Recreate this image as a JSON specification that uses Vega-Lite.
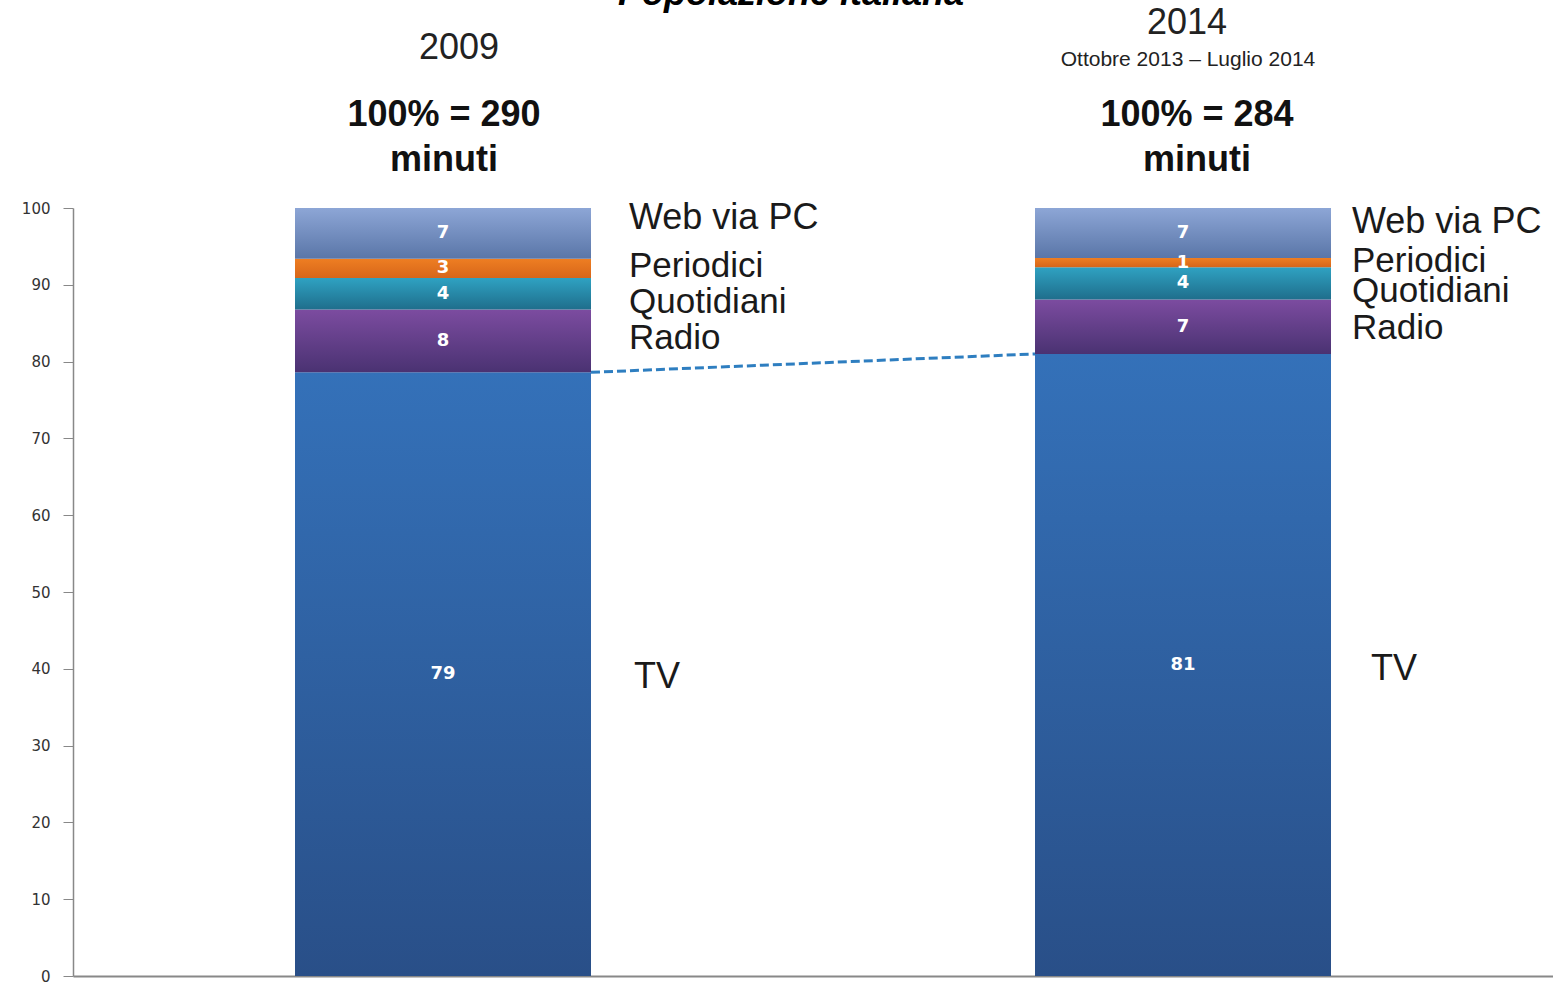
{
  "$schema": "https://vega.github.io/schema/vega-lite/v6.json",
  "width": 1480,
  "height": 768,
  "autosize": {"type": "none"},
  "padding": {"left": 73, "top": 208, "right": 0, "bottom": 6},
  "background": "white",
  "config": {
    "view": {"stroke": null},
    "font": "Liberation Sans",
    "axisY": {"domainColor": "#888888", "domainWidth": 1.5, "tickColor": "#888888", "tickSize": 10, "labelFont": "DejaVu Sans", "labelFontSize": 15, "labelColor": "#333333", "labelPadding": 13, "grid": false, "title": null},
    "axisX": {"labels": false, "ticks": false, "domainColor": "#888888", "domainWidth": 2, "title": null, "grid": false}
  },
  "datasets": {
    "media": [
      {"year": "2009", "cat": "TV", "ord": 1, "value": 78.6},
      {"year": "2009", "cat": "Radio", "ord": 2, "value": 8.2},
      {"year": "2009", "cat": "Quotidiani", "ord": 3, "value": 4.1},
      {"year": "2009", "cat": "Periodici", "ord": 4, "value": 2.5},
      {"year": "2009", "cat": "Web via PC", "ord": 5, "value": 6.6},
      {"year": "2014", "cat": "TV", "ord": 1, "value": 81.0},
      {"year": "2014", "cat": "Radio", "ord": 2, "value": 7.1},
      {"year": "2014", "cat": "Quotidiani", "ord": 3, "value": 4.2},
      {"year": "2014", "cat": "Periodici", "ord": 4, "value": 1.2},
      {"year": "2014", "cat": "Web via PC", "ord": 5, "value": 6.5}
    ],
    "hdr": [
      {"year": "2009", "kind": "title", "text": "Popolazione italiana"},
      {"year": "2009", "kind": "year", "text": "2009"},
      {"year": "2014", "kind": "year", "text": "2014"},
      {"year": "2014", "kind": "period", "text": "Ottobre 2013 – Luglio 2014"},
      {"year": "2009", "kind": "total", "text": "100% = 290"},
      {"year": "2014", "kind": "total", "text": "100% = 284"},
      {"year": "2009", "kind": "unit", "text": "minuti"},
      {"year": "2014", "kind": "unit", "text": "minuti"}
    ]
  },
  "layer": [
    {
      "data": {"name": "media"},
      "transform": [
        {"filter": "datum.cat == 'TV'"},
        {"pivot": "year", "value": "value", "groupby": ["cat"]}
      ],
      "mark": {"type": "rule", "stroke": "#2E7EC0", "strokeWidth": 3, "strokeDash": [9, 4]},
      "encoding": {
        "x": {"datum": "2009", "type": "nominal", "bandPosition": 1, "scale": {"domain": ["2009", "2014"], "paddingInner": 0.6, "paddingOuter": 0.3}},
        "x2": {"datum": "2014", "bandPosition": 0},
        "y": {"field": "2009", "type": "quantitative", "scale": {"domain": [0, 100], "nice": false}, "title": null, "axis": {"values": [0, 10, 20, 30, 40, 50, 60, 70, 80, 90, 100]}},
        "y2": {"field": "2014"}
      }
    },
    {
      "data": {"name": "media"},
      "transform": [
        {"stack": "value", "groupby": ["year"], "sort": [{"field": "ord", "order": "ascending"}], "as": ["y0", "y1"]},
        {"calculate": "(datum.y0 + datum.y1) / 2", "as": "mid"}
      ],
      "encoding": {
        "x": {"field": "year", "type": "nominal", "scale": {"domain": ["2009", "2014"], "paddingInner": 0.6, "paddingOuter": 0.3}}
      },
      "layer": [
        {
          "transform": [{"filter": "datum.cat == 'TV'"}],
          "mark": {"type": "bar", "stroke": null, "fill": {"gradient": "linear", "x1": 0, "y1": 0, "x2": 0, "y2": 1, "stops": [{"offset": 0, "color": "#3471B9"}, {"offset": 1, "color": "#294F88"}]}},
          "encoding": {"y": {"field": "y1", "type": "quantitative", "scale": {"domain": [0, 100], "nice": false}, "title": null, "axis": {"values": [0, 10, 20, 30, 40, 50, 60, 70, 80, 90, 100]}}, "y2": {"field": "y0"}}
        },
        {
          "transform": [{"filter": "datum.cat == 'Radio'"}],
          "mark": {"type": "bar", "stroke": null, "fill": {"gradient": "linear", "x1": 0, "y1": 0, "x2": 0, "y2": 1, "stops": [{"offset": 0, "color": "#7C4CA0"}, {"offset": 1, "color": "#4A3272"}]}},
          "encoding": {"y": {"field": "y1", "type": "quantitative", "title": null}, "y2": {"field": "y0"}}
        },
        {
          "transform": [{"filter": "datum.cat == 'Quotidiani'"}],
          "mark": {"type": "bar", "stroke": null, "fill": {"gradient": "linear", "x1": 0, "y1": 0, "x2": 0, "y2": 1, "stops": [{"offset": 0, "color": "#2FA2C2"}, {"offset": 1, "color": "#1F6E8C"}]}},
          "encoding": {"y": {"field": "y1", "type": "quantitative", "title": null}, "y2": {"field": "y0"}}
        },
        {
          "transform": [{"filter": "datum.cat == 'Periodici'"}],
          "mark": {"type": "bar", "stroke": null, "fill": {"gradient": "linear", "x1": 0, "y1": 0, "x2": 0, "y2": 1, "stops": [{"offset": 0, "color": "#EE7E22"}, {"offset": 1, "color": "#D7661A"}]}},
          "encoding": {"y": {"field": "y1", "type": "quantitative", "title": null}, "y2": {"field": "y0"}}
        },
        {
          "transform": [{"filter": "datum.cat == 'Web via PC'"}],
          "mark": {"type": "bar", "stroke": null, "fill": {"gradient": "linear", "x1": 0, "y1": 0, "x2": 0, "y2": 1, "stops": [{"offset": 0, "color": "#8DA6D6"}, {"offset": 1, "color": "#5A76A8"}]}},
          "encoding": {"y": {"field": "y1", "type": "quantitative", "title": null}, "y2": {"field": "y0"}}
        },
        {
          "mark": {"type": "text", "color": "white", "fontWeight": "bold", "fontSize": 18, "font": "DejaVu Sans", "baseline": "middle", "align": "center"},
          "encoding": {"y": {"field": "mid", "type": "quantitative", "title": null}, "text": {"field": "value", "type": "quantitative", "format": ".0f"}}
        },
        {
          "encoding": {"x": {"field": "year", "type": "nominal", "bandPosition": 1}, "y": {"field": "mid", "type": "quantitative", "title": null}, "text": {"field": "cat"}},
          "layer": [
            {"transform": [{"filter": "datum.year == '2009' && datum.cat == 'TV'"}], "mark": {"type": "text", "color": "#1a1a1a", "fontSize": 36, "align": "left", "baseline": "middle", "dx": 43, "dy": 3}},
            {"transform": [{"filter": "datum.year == '2014' && datum.cat == 'TV'"}], "mark": {"type": "text", "color": "#1a1a1a", "fontSize": 36, "align": "left", "baseline": "middle", "dx": 40, "dy": 4}},
            {"transform": [{"filter": "datum.year == '2009' && datum.cat == 'Radio'"}], "mark": {"type": "text", "color": "#1a1a1a", "fontSize": 35, "align": "left", "baseline": "middle", "dx": 38, "dy": -3}},
            {"transform": [{"filter": "datum.year == '2014' && datum.cat == 'Radio'"}], "mark": {"type": "text", "color": "#1a1a1a", "fontSize": 35, "align": "left", "baseline": "middle", "dx": 21, "dy": 1}},
            {"transform": [{"filter": "datum.year == '2009' && datum.cat == 'Quotidiani'"}], "mark": {"type": "text", "color": "#1a1a1a", "fontSize": 35, "align": "left", "baseline": "middle", "dx": 38, "dy": 8}},
            {"transform": [{"filter": "datum.year == '2014' && datum.cat == 'Quotidiani'"}], "mark": {"type": "text", "color": "#1a1a1a", "fontSize": 35, "align": "left", "baseline": "middle", "dx": 21, "dy": 8}},
            {"transform": [{"filter": "datum.year == '2009' && datum.cat == 'Periodici'"}], "mark": {"type": "text", "color": "#1a1a1a", "fontSize": 35, "align": "left", "baseline": "middle", "dx": 38, "dy": -2}},
            {"transform": [{"filter": "datum.year == '2014' && datum.cat == 'Periodici'"}], "mark": {"type": "text", "color": "#1a1a1a", "fontSize": 35, "align": "left", "baseline": "middle", "dx": 21, "dy": -2}},
            {"transform": [{"filter": "datum.year == '2009' && datum.cat == 'Web via PC'"}], "mark": {"type": "text", "color": "#1a1a1a", "fontSize": 36, "align": "left", "baseline": "middle", "dx": 38, "dy": -15}},
            {"transform": [{"filter": "datum.year == '2014' && datum.cat == 'Web via PC'"}], "mark": {"type": "text", "color": "#1a1a1a", "fontSize": 36, "align": "left", "baseline": "middle", "dx": 21, "dy": -11}}
          ]
        }
      ]
    },
    {
      "data": {"name": "hdr"},
      "encoding": {
        "x": {"field": "year", "type": "nominal", "scale": {"domain": ["2009", "2014"], "paddingInner": 0.6, "paddingOuter": 0.3}},
        "y": {"datum": 100, "type": "quantitative"},
        "text": {"field": "text"}
      },
      "layer": [
        {"transform": [{"filter": "datum.kind == 'title'"}], "encoding": {"x": {"field": "year", "type": "nominal", "bandPosition": 1}}, "mark": {"type": "text", "fontSize": 36, "fontStyle": "italic", "fontWeight": "bold", "color": "#000000", "baseline": "alphabetic", "align": "center", "dx": 200, "dy": -203}},
        {"transform": [{"filter": "datum.kind == 'year' && datum.year == '2009'"}], "mark": {"type": "text", "fontSize": 36, "color": "#222222", "baseline": "middle", "dx": 16, "dy": -160}},
        {"transform": [{"filter": "datum.kind == 'year' && datum.year == '2014'"}], "mark": {"type": "text", "fontSize": 36, "color": "#222222", "baseline": "middle", "dx": 4, "dy": -185}},
        {"transform": [{"filter": "datum.kind == 'period'"}], "mark": {"type": "text", "fontSize": 21, "color": "#222222", "baseline": "middle", "dx": 5, "dy": -148}},
        {"transform": [{"filter": "datum.kind == 'total' && datum.year == '2009'"}], "mark": {"type": "text", "fontSize": 36, "fontWeight": "bold", "color": "#111111", "baseline": "middle", "dx": 1, "dy": -93}},
        {"transform": [{"filter": "datum.kind == 'total' && datum.year == '2014'"}], "mark": {"type": "text", "fontSize": 36, "fontWeight": "bold", "color": "#111111", "baseline": "middle", "dx": 14, "dy": -93}},
        {"transform": [{"filter": "datum.kind == 'unit' && datum.year == '2009'"}], "mark": {"type": "text", "fontSize": 36, "fontWeight": "bold", "color": "#111111", "baseline": "middle", "dx": 1, "dy": -48}},
        {"transform": [{"filter": "datum.kind == 'unit' && datum.year == '2014'"}], "mark": {"type": "text", "fontSize": 36, "fontWeight": "bold", "color": "#111111", "baseline": "middle", "dx": 14, "dy": -48}}
      ]
    }
  ]
}
